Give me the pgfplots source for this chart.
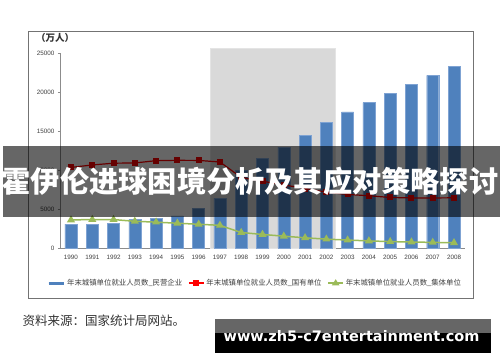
\documentclass[border=0pt]{standalone}
\usepackage{pgfplots}
\pgfplotsset{compat=1.18}
\usepackage{fontspec}
\setmainfont{Liberation Sans}
\newfontfamily\cjk{Noto Sans CJK SC}
\newfontfamily\dejab{DejaVu Sans}
\definecolor{barblue}{HTML}{4F81BD}
\definecolor{baredge}{HTML}{7FA3D3}
\definecolor{sred}{HTML}{FF0000}
\definecolor{sgreen}{HTML}{9BBB59}
\definecolor{shade}{HTML}{D9D9D9}
\definecolor{txtgray}{HTML}{404040}
\begin{document}
\begin{tikzpicture}
\path[use as bounding box, fill=white] (0pt,0pt) rectangle (500pt,362pt);
% outer frame
\draw[line width=0.9pt, color=black!55] (28pt,331pt) rectangle (473pt,64pt);
\begin{axis}[
  at={(60.35pt,114pt)}, anchor=south west,
  scale only axis, width=404.3pt, height=194.7pt,
  xmin=-0.5, xmax=18.5, ymin=0, ymax=25000,
  clip=false,
  axis x line=bottom, axis y line=left,
  axis line style={draw=black!45, line width=0.6pt, -},
  xtick={0,...,18},
  xticklabels={1990,1991,1992,1993,1994,1995,1996,1997,1998,1999,2000,2001,2002,2003,2004,2005,2006,2007,2008},
  x tick label style={font=\fontsize{6.3}{7}\selectfont, text=txtgray, yshift=-1pt},
  xtick style={draw=none},
  ytick={0,5000,10000,15000,20000,25000},
  y tick label style={font=\fontsize{6.3}{7}\selectfont, text=txtgray},
  ytick style={draw=black!45, line width=0.5pt},
  tick align=outside, major tick length=2.5pt,
  /pgf/number format/assume math mode=true,
  /pgf/number format/set thousands separator={},
  scaled y ticks=false,
  legend style={at={(0.4815,-0.18)}, anchor=center, draw=none, fill=none,
    legend columns=3, font=\cjk\fontsize{7.4}{8}\selectfont, text=txtgray,
    /tikz/every even column/.append style={column sep=4pt},
    inner sep=0pt, cells={anchor=west}},
]
% shaded period
\addplot[fill=shade, draw=shade!70!white, forget plot] coordinates {(6.55,0) (6.55,25600) (12.4,25600) (12.4,0)} \closedcycle;
% bars
\addplot[ybar, bar width=12pt, fill=barblue, draw=baredge, line width=0.4pt,
  legend image code/.code={\draw[barblue, line width=3pt] (0pt,0pt) -- (15pt,0pt);}]
  coordinates {(0,3080) (1,3030) (2,3160) (3,3720) (4,3800) (5,4140) (6,5100) (7,6400) (8,10000) (9,11500) (10,12950) (11,14490) (12,16130) (13,17470) (14,18680) (15,19830) (16,21025) (17,22180) (18,23330)};
\addlegendentry{年末城镇单位就业人员数\_民营企业}
% state-owned
\addplot[color=sred, line width=1.2pt, mark=square*, mark size=2.4pt, mark options={solid},
  legend image code/.code={\draw[sred, line width=1.2pt] (0pt,0pt) -- (15pt,0pt); \fill[sred] (5pt,-2pt) rectangle (10pt,2pt);}]
  coordinates {(0,10346) (1,10664) (2,10889) (3,10920) (4,11214) (5,11261) (6,11244) (7,11044) (8,9058) (9,8572) (10,8102) (11,7640) (12,7163) (13,6876) (14,6710) (15,6488) (16,6430) (17,6424) (18,6447)};
\addlegendentry{年末城镇单位就业人员数\_国有单位}
% collective
\addplot[color=sgreen, line width=1.5pt, mark=triangle*, mark size=3.2pt, mark options={solid},
  legend image code/.code={\draw[sgreen, line width=1.2pt] (0pt,0pt) -- (15pt,0pt); \fill[sgreen] (5pt,-1.6pt) -- (10pt,-1.6pt) -- (7.5pt,2.4pt) -- cycle;}]
  coordinates {(0,3600) (1,3660) (2,3650) (3,3430) (4,3320) (5,3180) (6,3050) (7,2910) (8,1990) (9,1740) (10,1520) (11,1310) (12,1140) (13,1020) (14,910) (15,820) (16,770) (17,720) (18,670)};
\addlegendentry{年末城镇单位就业人员数\_集体单位}
\end{axis}
% unit label
\node[font=\cjk\bfseries\fontsize{9.5}{10}\selectfont, text=black!80] at (55pt,324pt) {（万人）};
% source
\node[anchor=west, font=\cjk\fontsize{12.5}{13}\selectfont, text=black!80] at (19pt,41pt) {资料来源：国家统计局网站。};
% title overlay banner
\fill[black, opacity=0.6] (3pt,216pt) rectangle (500pt,145.3pt);
\node[font=\cjk\bfseries\fontsize{29.2}{30}\selectfont, text=white, inner sep=0pt] at (250pt,180.5pt) {霍伊伦进球困境分析及其应对策略探讨};
% url banner
\fill[black, opacity=0.6] (215pt,43pt) rectangle (490.7pt,29.3pt);
\fill[black] (215pt,29.3pt) rectangle (490.7pt,9.3pt);
\node[font=\dejab\bfseries\fontsize{14.5}{15}\selectfont, text=white, inner sep=0pt] at (351.5pt,26pt) {www.zh5-c7entertainment.com};
\end{tikzpicture}
\end{document}
